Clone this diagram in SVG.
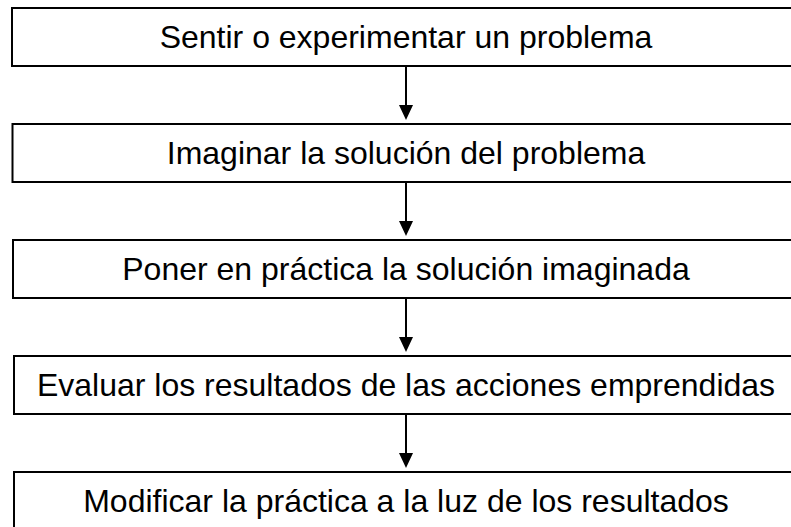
<svg xmlns="http://www.w3.org/2000/svg" width="791" height="527" viewBox="0 0 791 527">
<defs>
<style>
.box{fill:#fff;stroke:#000;stroke-width:2}
.lbl{font-family:"Liberation Sans",Arial,sans-serif;font-size:32px;fill:#000;text-anchor:middle}
.conn{stroke:#000;stroke-width:2;fill:none}
.head{fill:#000}
</style>
</defs>
<rect width="791" height="527" fill="#fff"/>
<g id="n1"><rect class="box" x="12" y="8" width="790" height="58"/><text class="lbl" x="406" y="48">Sentir o experimentar un problema</text></g>
<g id="n2"><rect class="box" x="12.5" y="124" width="790" height="58"/><text class="lbl" x="406" y="164">Imaginar la solución del problema</text></g>
<g id="n3"><rect class="box" x="13" y="240" width="790" height="58"/><text class="lbl" x="406" y="280">Poner en práctica la solución imaginada</text></g>
<g id="n4"><rect class="box" x="14" y="356" width="790" height="58"/><text class="lbl" x="406" y="396">Evaluar los resultados de las acciones emprendidas</text></g>
<g id="n5"><rect class="box" x="14" y="472" width="790" height="58"/><text class="lbl" x="406" y="512">Modificar la práctica a la luz de los resultados</text></g>
<g id="connectors">
<line class="conn" x1="406" y1="66" x2="406" y2="106"/><polygon class="head" points="399,105 413,105 406,120"/>
<line class="conn" x1="406" y1="182" x2="406" y2="222"/><polygon class="head" points="399,221 413,221 406,236"/>
<line class="conn" x1="406" y1="298" x2="406" y2="338"/><polygon class="head" points="399,337 413,337 406,352"/>
<line class="conn" x1="406" y1="414" x2="406" y2="454"/><polygon class="head" points="399,453 413,453 406,468"/>
</g>
</svg>
